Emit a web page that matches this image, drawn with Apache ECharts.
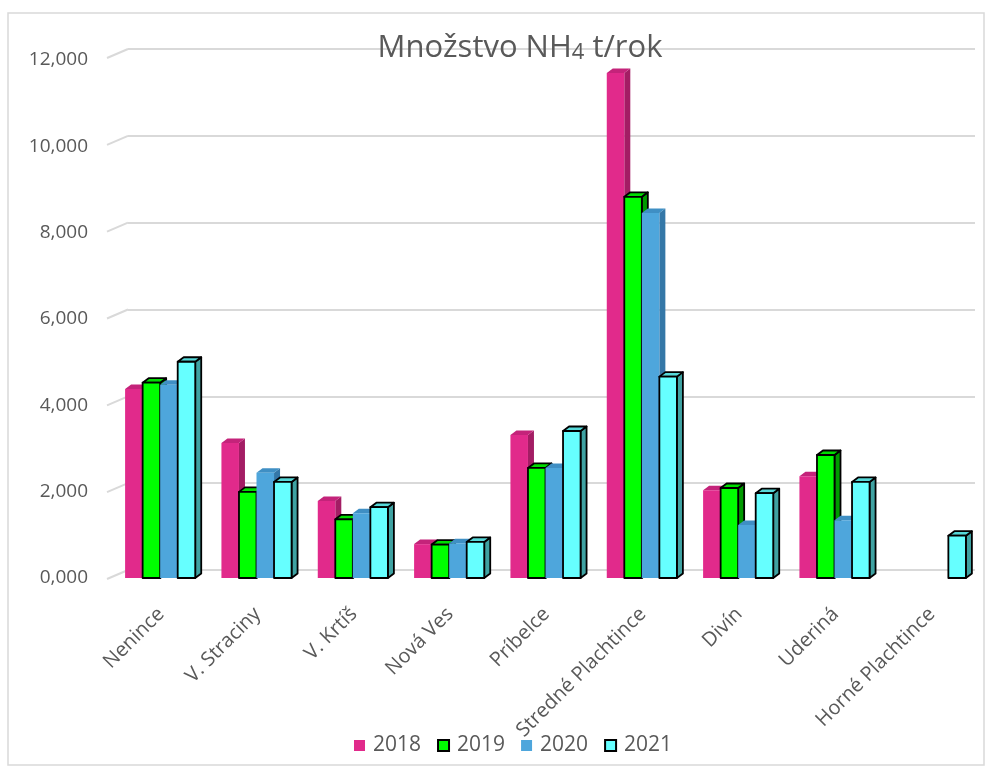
<!DOCTYPE html>
<html>
<head>
<meta charset="utf-8">
<script src="https://cdn.jsdelivr.net/npm/echarts@6/dist/echarts.min.js"></script>
<style>
  html, body { margin: 0; padding: 0; background: #ffffff; }
  #chart { width: 991px; height: 767px; }
</style>
</head>
<body>
<div id="chart"></div>
<script>
// Obce a ročné množstvá NH4 (t/rok)
const categories = ['Nenince', 'V. Straciny', 'V. Krtíš', 'Nová Ves', 'Príbelce',
  'Stredné Plachtince', 'Divín', 'Uderiná', 'Horné Plachtince'];
const years = ['2018', '2019', '2020', '2021'];
const values2018 = [4380, 3130, 1785, 785, 3315, 11700, 2035, 2360, null];
const values2019 = [4525, 1995, 1360, 775, 2550, 8830, 2085, 2850, null];
const values2020 = [4475, 2440, 1500, 805, 2550, 8455, 1230, 1340, null];
const values2021 = [5010, 2225, 1640, 835, 3405, 4665, 1965, 2225, 980];
const yTicks = [0, 2000, 4000, 6000, 8000, 10000, 12000];

const seriesValues = [values2018, values2019, values2020, values2021];

// Face colours per year: front, top, side, border
const palette = [
  { front: '#E12A8B', top: '#C4237A', side: '#A31D64', border: null },
  { front: '#00FF00', top: '#00DD00', side: '#009A00', border: '#000000' },
  { front: '#4EA6DC', top: '#3F8FC4', side: '#3477A7', border: null },
  { front: '#66FFFF', top: '#56D8D8', side: '#3FA2A2', border: '#000000' }
];

const DEPTH_X = 6, DEPTH_Y = 4.5;
const BAR_FRAC = 0.182;

function columnRenderer(seriesIdx) {
  const pal = palette[seriesIdx];
  return function (params, api) {
    const cat = api.value(0);
    const val = api.value(1);
    const band = api.size([1, 0])[0];
    const bw = band * BAR_FRAC;
    const base = api.coord([cat, 0]);
    const topPt = api.coord([cat, val]);
    const x0 = base[0] - 2 * bw - 1 + seriesIdx * bw;
    const x1 = x0 + bw;
    const y0 = base[1];
    const y1 = topPt[1];
    const stroke = pal.border
      ? { stroke: pal.border, lineWidth: 1.8, lineJoin: 'round' }
      : { stroke: null, lineWidth: 0 };
    return {
      type: 'group',
      children: [
        {
          type: 'polygon',
          shape: { points: [[x1, y1], [x1 + DEPTH_X, y1 - DEPTH_Y], [x1 + DEPTH_X, y0 - DEPTH_Y], [x1, y0]] },
          style: Object.assign({ fill: pal.side }, stroke)
        },
        {
          type: 'polygon',
          shape: { points: [[x0, y1], [x0 + DEPTH_X, y1 - DEPTH_Y], [x1 + DEPTH_X, y1 - DEPTH_Y], [x1, y1]] },
          style: Object.assign({ fill: pal.top }, stroke)
        },
        {
          type: 'rect',
          shape: { x: x0, y: y1, width: bw, height: y0 - y1 },
          style: Object.assign({ fill: pal.front }, stroke)
        }
      ]
    };
  };
}

function seriesData(arr) {
  const out = [];
  arr.forEach(function (v, i) { if (v !== null && v !== undefined) out.push([i, v]); });
  return out;
}

const textColor = '#595959';
const fontFamily = '"Open Sans", "Noto Sans", sans-serif';

const columnSeries = years.map(function (y, s) {
  const pal = palette[s];
  return {
    name: y,
    type: 'custom',
    xAxisIndex: 1,
    yAxisIndex: 1,
    renderItem: columnRenderer(s),
    encode: { x: 0, y: 1 },
    itemStyle: {
      color: pal.front,
      borderColor: pal.border || pal.front,
      borderWidth: pal.border ? 2 : 0
    },
    data: seriesData(seriesValues[s]),
    z: 3 + s
  };
});

const chart = echarts.init(document.getElementById('chart'), null, { renderer: 'canvas' });

chart.setOption({
  backgroundColor: '#ffffff',
  animation: false,
  title: {
    text: '{a|Množstvo NH}{b|4}{a| t/rok}',
    left: 515,
    textAlign: 'center',
    top: 21,
    textStyle: {
      rich: {
        a: { fontSize: 31, fontWeight: 'normal', color: textColor, fontFamily: fontFamily, verticalAlign: 'bottom', lineHeight: 38 },
        b: { fontSize: 22, fontWeight: 'normal', color: textColor, fontFamily: fontFamily, verticalAlign: 'bottom', lineHeight: 33 }
      }
    }
  },
  legend: {
    bottom: 6,
    left: 349,
    itemWidth: 11,
    itemHeight: 11,
    itemGap: 16,
    icon: 'rect',
    textStyle: { color: textColor, fontSize: 21, fontFamily: fontFamily, padding: [0, 0, 0, 3] },
    data: years.map(function (y, s) {
      const pal = palette[s];
      return {
        name: y,
        itemStyle: {
          color: pal.front,
          borderColor: pal.border || pal.front,
          borderWidth: pal.border ? 2 : 0
        }
      };
    })
  },
  grid: [
    // back wall (gridlines)
    { left: 128, right: 16, top: 49, bottom: 197 },
    // front plane (labels and columns)
    { left: 113, right: 11, top: 60, bottom: 189 }
  ],
  xAxis: [
    { type: 'category', gridIndex: 0, data: categories, show: false },
    {
      type: 'category',
      gridIndex: 1,
      data: categories,
      axisLine: { show: false },
      axisTick: { show: false },
      axisLabel: {
        rotate: 45,
        margin: 33,
        color: textColor,
        fontSize: 20,
        fontFamily: fontFamily,
        interval: 0
      }
    }
  ],
  yAxis: [
    {
      type: 'value',
      gridIndex: 0,
      min: yTicks[0],
      max: yTicks[yTicks.length - 1],
      interval: yTicks[1] - yTicks[0],
      axisLine: { show: false },
      axisTick: { show: false },
      axisLabel: { show: false },
      splitLine: { lineStyle: { color: '#d9d9d9', width: 2 } }
    },
    {
      type: 'value',
      gridIndex: 1,
      min: yTicks[0],
      max: yTicks[yTicks.length - 1],
      interval: yTicks[1] - yTicks[0],
      axisLine: { show: false },
      axisTick: { show: false },
      splitLine: { show: false },
      axisLabel: {
        margin: 25,
        color: textColor,
        fontSize: 19,
        fontFamily: fontFamily,
        formatter: function (v) {
          return v === 0 ? '0,000' : v.toLocaleString('en-US');
        }
      }
    }
  ],
  series: [
    {
      // side-wall edges joining the front axis to the back-wall gridlines
      type: 'custom',
      xAxisIndex: 0,
      yAxisIndex: 0,
      silent: true,
      z: 1,
      renderItem: function (params, api) {
        const p = api.coord([0, api.value(1)]);
        const x = params.coordSys.x;
        return {
          type: 'line',
          shape: { x1: x, y1: p[1], x2: x - 21, y2: p[1] + 9 },
          style: { stroke: '#d9d9d9', lineWidth: 2 }
        };
      },
      data: yTicks.map(function (t) { return [0, t]; })
    }
  ].concat(columnSeries),
  graphic: [
    {
      type: 'rect',
      shape: { x: 8, y: 13, width: 976, height: 752 },
      style: { fill: null, stroke: '#d9d9d9', lineWidth: 1.5 },
      silent: true,
      z: -1
    }
  ]
});
</script>
</body>
</html>
